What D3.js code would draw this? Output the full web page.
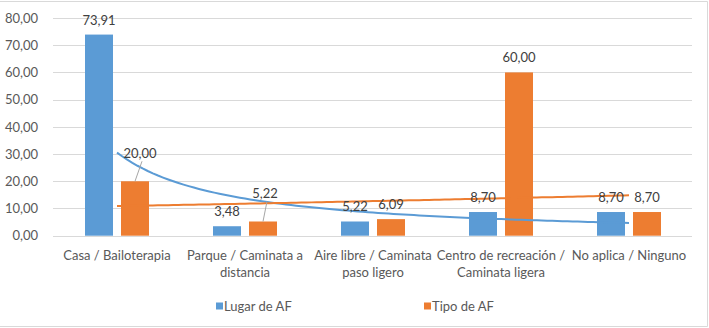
<!DOCTYPE html>
<html>
<head>
<meta charset="utf-8">
<script src="https://cdn.jsdelivr.net/npm/d3@7"></script>
<style>
  html, body { margin: 0; padding: 0; background: #fff; }
  svg { display: block; font-family: Lato, "Liberation Sans", sans-serif; }
</style>
</head>
<body>
<svg id="chart" width="709" height="328"></svg>
<script>
// ---- data ----
const categories = [
  "Casa / Bailoterapia",
  "Parque / Caminata a\ndistancia",
  "Aire libre / Caminata\npaso ligero",
  "Centro de recreación /\nCaminata ligera",
  "No aplica / Ninguno"
];
const seriesNames = ["Lugar de AF", "Tipo de AF"];
const lugarValues = [73.91, 3.48, 5.22, 8.70, 8.70];
const tipoValues = [20.00, 5.22, 6.09, 60.00, 8.70];
const trendTypes = ["power", "exponential"];
const yTicks = [0, 10, 20, 30, 40, 50, 60, 70, 80];
const colors = ["#5B9BD5", "#ED7D31"];

const seriesValues = [lugarValues, tipoValues];

(function () {
// ---- setup ----
const svg = d3.select("#chart");
const W = 709, H = 328;
const plotLeft = 53, plotRight = 693, plotTop = 18, plotBottom = 235.7;

const locale = d3.formatLocale({decimal: ",", thousands: ".", grouping: [3], currency: ["", ""]});
const fmt = locale.format(".2f");

const x = d3.scaleBand().domain(categories).range([plotLeft, plotRight]).paddingInner(0).paddingOuter(0);
const x1 = d3.scaleBand().domain(seriesNames).range([32, 96]).paddingInner(2 - 64 / 36).paddingOuter(0);
const y = d3.scaleLinear().domain([0, 80]).range([plotBottom, plotTop]);

// outer frame
svg.append("rect").attr("x", 0).attr("y", 0).attr("width", W).attr("height", H).attr("fill", "#fff");
svg.append("path").attr("d", `M0,1.5 H707.5 V326.5 H0`).attr("fill", "none").attr("stroke", "#d9d9d9").attr("stroke-width", 1);

// gridlines
svg.append("g").selectAll("line").data(yTicks).join("line")
  .attr("x1", plotLeft).attr("x2", plotRight - 1)
  .attr("y1", d => Math.round(y(d)) + 0.5).attr("y2", d => Math.round(y(d)) + 0.5)
  .attr("stroke", "#d9d9d9").attr("stroke-width", 1);

// y axis labels
const yAxis = d3.axisLeft(y).tickValues(yTicks).tickFormat(fmt).tickSize(0).tickPadding(0);
const gy = svg.append("g").attr("transform", `translate(38,0)`).call(yAxis);
gy.select(".domain").remove();
gy.selectAll("text").attr("fill", "#595959").style("font-size", "13px").style("font-family", "Lato, sans-serif");

// bars
const groups = svg.append("g").selectAll("g").data(seriesNames).join("g")
  .attr("fill", (d, i) => colors[i]);
groups.selectAll("rect").data((s, si) => categories.map((c, ci) => ({c, s, si, ci, v: seriesValues[si][ci]})))
  .join("rect")
  .attr("x", d => x(d.c) + x1(d.s))
  .attr("width", x1.bandwidth())
  .attr("y", d => y(d.v))
  .attr("height", d => y(0) - y(d.v));

// trend lines
function fit(vals, type) {
  const n = vals.length;
  const xs = vals.map((v, i) => i + 1);
  const X = type === "power" ? xs.map(Math.log) : xs;
  const Y = vals.map(Math.log);
  const mx = d3.mean(X), my = d3.mean(Y);
  let sxy = 0, sxx = 0;
  for (let i = 0; i < n; i++) { sxy += (X[i] - mx) * (Y[i] - my); sxx += (X[i] - mx) ** 2; }
  const b = sxy / sxx, a = my - b * mx;
  return t => type === "power" ? Math.exp(a) * Math.pow(t, b) : Math.exp(a + b * t);
}
const xPos = t => x(categories[0]) + x.bandwidth() / 2 + (t - 1) * x.step();
const samples = d3.range(0, 101).map(i => 1 + i * (categories.length - 1) / 100);
const line = d3.line().x(d => xPos(d[0])).y(d => y(d[1])).curve(d3.curveLinear);
seriesValues.forEach((vals, si) => {
  const f = fit(vals, trendTypes[si]);
  svg.append("path").datum(samples.map(t => [t, f(t)]))
    .attr("d", line).attr("fill", "none")
    .attr("stroke", colors[si]).attr("stroke-width", 2);
});

// data labels
const nudges = {"0-1": [5, -13], "1-1": [2, -13]};
const labels = svg.append("g");
seriesNames.forEach((s, si) => {
  categories.forEach((c, ci) => {
    const v = seriesValues[si][ci];
    const cx = x(c) + x1(s) + x1.bandwidth() / 2;
    const top0 = y(v);
    const nd = nudges[ci + "-" + si] || [0, 0];
    const lx = cx + nd[0], ly = top0 - 10 + nd[1];
    if (nudges[ci + "-" + si]) {
      labels.append("line").attr("x1", cx).attr("y1", top0)
        .attr("x2", lx + 2).attr("y2", ly + 3)
        .attr("stroke", "#a6a6a6").attr("stroke-width", 1);
    }
    labels.append("text").attr("x", lx).attr("y", ly)
      .attr("text-anchor", "middle").attr("fill", "#404040")
      .style("font-size", "13px").text(fmt(v));
  });
});

// category labels
const cat = svg.append("g");
categories.forEach(c => {
  const lines = c.split("\n");
  const t = cat.append("text").attr("text-anchor", "middle").attr("fill", "#595959").style("font-size", "13px");
  lines.forEach((l, i) => {
    t.append("tspan").attr("x", x(c) + x.bandwidth() / 2).attr("y", 259.5 + i * 17.5).text(l);
  });
});

// legend
const legendX = [216, 424];
const lg = svg.append("g");
seriesNames.forEach((s, i) => {
  lg.append("rect").attr("x", legendX[i]).attr("y", 302.5).attr("width", 7).attr("height", 7).attr("fill", colors[i]);
  lg.append("text").attr("x", legendX[i] + 8).attr("y", 310.5).attr("fill", "#595959").style("font-size", "13px").text(s);
});
})();
</script>
</body>
</html>
